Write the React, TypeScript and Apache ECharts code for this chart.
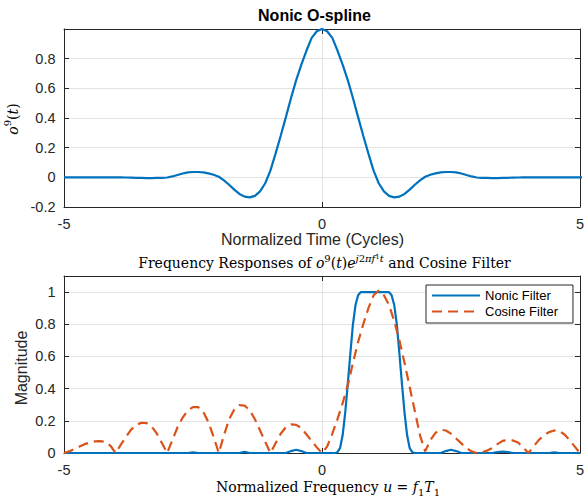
import { useEffect, useRef } from "react";
import * as echarts from "echarts";

// ---- Top plot: nonic O-spline o^9(t), sampled at t = -5 .. 5 (step 0.1)
const T_START = -5;
const T_STEP = 0.1;
const OSPLINE_VALUES = [
  0, 0, 0, 0, 0, 0, 0, 0, 0, 0, 0,
  0, -0.001, -0.002, -0.003, -0.004, -0.005, -0.005, -0.004, -0.003, -0.001,
  0.006, 0.016, 0.026, 0.033, 0.036, 0.036, 0.033, 0.027, 0.017, 0.004,
  -0.02, -0.05, -0.083, -0.112, -0.13, -0.135, -0.125, -0.095, -0.04, 0.045,
  0.16, 0.28, 0.406, 0.535, 0.655, 0.76, 0.855, 0.94, 0.985, 1.0,
  0.985, 0.94, 0.855, 0.76, 0.655, 0.535, 0.406, 0.28, 0.16, 0.045,
  -0.04, -0.095, -0.125, -0.135, -0.13, -0.112, -0.083, -0.05, -0.02, 0.004,
  0.017, 0.027, 0.033, 0.036, 0.036, 0.033, 0.026, 0.016, 0.006, -0.001,
  -0.003, -0.004, -0.005, -0.005, -0.004, -0.003, -0.002, -0.001, 0,
  0, 0, 0, 0, 0, 0, 0, 0, 0, 0, 0, 0,
];

// ---- Bottom plot: frequency responses, u = -5 .. 5
const U_START = -5;
const U_STEP = 0.1;
const COSINE_VALUES = [
  0.0, 0.01, 0.025, 0.04, 0.055, 0.065, 0.072, 0.074, 0.07, 0.045,
  0.0, 0.05, 0.1, 0.145, 0.175, 0.188, 0.186, 0.165, 0.12, 0.06,
  0.0, 0.08, 0.16, 0.22, 0.265, 0.285, 0.285, 0.255, 0.19, 0.1,
  0.0, 0.11, 0.21, 0.27, 0.297, 0.295, 0.265, 0.21, 0.14, 0.07,
  0.0, 0.06, 0.12, 0.16, 0.178, 0.175, 0.155, 0.115, 0.075, 0.035,
  0.0, 0.04, 0.12, 0.21, 0.31, 0.42, 0.56, 0.69, 0.8, 0.9,
  0.98, 1.01, 0.98, 0.92, 0.82, 0.7, 0.56, 0.41, 0.26, 0.11,
  0.01, 0.08, 0.125, 0.145, 0.14, 0.12, 0.09, 0.06, 0.03, 0.01,
  0.0, 0.005, 0.015, 0.03, 0.055, 0.075, 0.08, 0.078, 0.065, 0.035,
  0.0, 0.04, 0.08, 0.11, 0.13, 0.14, 0.138, 0.115, 0.08, 0.04,
  0.0,
];

const NONIC_U = [
  -5, -2.6, -2.5, -2.4, -1.6, -1.5, -1.4, -0.7, -0.6, -0.5, -0.4, -0.3,
  0.25, 0.3, 0.35, 0.4, 0.45, 0.5, 0.55, 0.6, 0.65, 0.7, 0.75,
  1.3, 1.35, 1.4, 1.45, 1.5, 1.55, 1.6, 1.65, 1.7, 1.75, 1.8,
  2.3, 2.4, 2.5, 2.6, 2.7, 3.3, 3.4, 3.5, 3.6, 3.7, 4.4, 4.5, 4.6, 5,
];
const NONIC_VALUES = [
  0, 0, 0.004, 0, 0, 0.007, 0, 0, 0.012, 0.02, 0.012, 0,
  0, 0.005, 0.03, 0.11, 0.25, 0.43, 0.62, 0.8, 0.92, 0.98, 1.0,
  1.0, 0.98, 0.92, 0.8, 0.62, 0.43, 0.25, 0.11, 0.03, 0.005, 0,
  0, 0.012, 0.02, 0.012, 0, 0, 0.006, 0.008, 0.006, 0, 0, 0.004, 0, 0,
];

const X_MIN = -5;
const X_MAX = 5;
const X_INTERVAL = 5;
const TOP_Y = { min: -0.2, max: 1, interval: 0.2 };
const BOT_Y = { min: 0, max: 1.1, interval: 0.2 };

const TITLE_TOP = "Nonic O-spline";
const XLABEL_TOP = "Normalized Time (Cycles)";
const YLABEL_BOT = "Magnitude";
const LEGEND_NAMES = ["Nonic Filter", "Cosine Filter"];

const BLUE = "#0072BD";
const ORANGE = "#D95319";
const INK = "#262626";
const GRID = "#e3e3e3";
const SANS = '"Liberation Sans", Arial, Helvetica, sans-serif';
const SERIF = '"DejaVu Serif", "Liberation Serif", serif';
const TICK_FS = 14.5;

function fmt(v: number) {
  const r = Math.round(v * 10) / 10;
  return String(r);
}

function makeX(gridIndex: number, position: "bottom" | "top") {
  const main = position === "bottom";
  return {
    type: "value",
    gridIndex,
    position,
    min: X_MIN,
    max: X_MAX,
    interval: X_INTERVAL,
    axisLine: { show: true, onZero: false, lineStyle: { color: INK, width: 1 } },
    axisTick: { show: true, inside: true, length: 5, lineStyle: { color: INK } },
    axisLabel: {
      show: main,
      margin: 9,
      color: INK,
      fontSize: TICK_FS,
      fontFamily: SANS,
      formatter: (v: number) => fmt(v),
    },
    splitLine: { show: main, lineStyle: { color: GRID, width: 1 } },
  };
}

function makeY(gridIndex: number, position: "left" | "right", r: { min: number; max: number; interval: number }, hideAbove: number) {
  const main = position === "left";
  return {
    type: "value",
    gridIndex,
    position,
    min: r.min,
    max: r.max,
    interval: r.interval,
    axisLine: { show: true, onZero: false, lineStyle: { color: INK, width: 1 } },
    axisTick: { show: true, inside: true, length: 5, lineStyle: { color: INK } },
    axisLabel: {
      show: main,
      margin: 8.5,
      color: INK,
      fontSize: TICK_FS,
      fontFamily: SANS,
      formatter: (v: number) => (v > hideAbove ? "" : fmt(v)),
    },
    splitLine: { show: main, lineStyle: { color: GRID, width: 1 } },
  };
}

export default function App() {
  const ref = useRef<HTMLDivElement>(null);

  useEffect(() => {
    if (!ref.current) return;
    const chart = echarts.init(ref.current, undefined, { renderer: "svg" });

    const osplineData = OSPLINE_VALUES.map((v, i) => [T_START + i * T_STEP, v]);
    const cosineData = COSINE_VALUES.map((v, i) => [U_START + i * U_STEP, v]);
    const nonicData = NONIC_U.map((u, i) => [u, NONIC_VALUES[i]]);

    const sup = { fontFamily: SERIF, fontSize: 10, lineHeight: 10, verticalAlign: "top", fill: "#000" };
    const supI = { ...sup, fontStyle: "italic" };
    const norm = { fontFamily: SERIF, fontSize: 14, lineHeight: 20, fill: "#000" };
    const ital = { ...norm, fontStyle: "italic" };

    chart.setOption({
      animation: false,
      backgroundColor: "#fff",
      grid: [
        { left: 64, top: 29, width: 520, height: 178 },
        { left: 64, top: 276, width: 520, height: 177 },
      ],
      xAxis: [makeX(0, "bottom"), makeX(0, "top"), makeX(1, "bottom"), makeX(1, "top")],
      yAxis: [
        makeY(0, "left", TOP_Y, 0.95),
        makeY(0, "right", TOP_Y, 0.95),
        makeY(1, "left", BOT_Y, 1.05),
        makeY(1, "right", BOT_Y, 1.05),
      ],
      legend: {
        data: LEGEND_NAMES,
        orient: "vertical",
        left: 426,
        top: 285,
        itemWidth: 48,
        itemHeight: 14,
        itemGap: 3,
        padding: [4, 15, 5, 5],
        borderColor: INK,
        borderWidth: 1,
        backgroundColor: "#fff",
        itemStyle: { opacity: 0 },
        textStyle: { color: "#000", fontSize: 13, fontFamily: SANS },
      },
      series: [
        {
          type: "line",
          xAxisIndex: 0,
          yAxisIndex: 0,
          data: osplineData,
          symbol: "none",
          lineStyle: { color: BLUE, width: 2.2 },
          itemStyle: { color: BLUE },
        },
        {
          name: LEGEND_NAMES[0],
          type: "line",
          xAxisIndex: 2,
          yAxisIndex: 2,
          data: nonicData,
          symbol: "none",
          lineStyle: { color: BLUE, width: 2.2 },
          itemStyle: { color: BLUE },
        },
        {
          name: LEGEND_NAMES[1],
          type: "line",
          xAxisIndex: 2,
          yAxisIndex: 2,
          data: cosineData,
          symbol: "none",
          lineStyle: { color: ORANGE, width: 2.2, type: [10, 6] },
          itemStyle: { color: ORANGE },
        },
      ],
      graphic: [
        {
          type: "text",
          x: 314.5,
          y: 15.5,
          style: { text: TITLE_TOP, font: `bold 16px ${SANS}`, fill: "#000", align: "center", verticalAlign: "middle" },
        },
        {
          type: "text",
          x: 312.5,
          y: 239.5,
          style: { text: XLABEL_TOP, font: `16px ${SANS}`, fill: INK, align: "center", verticalAlign: "middle" },
        },
        {
          type: "text",
          x: 21.5,
          y: 368,
          rotation: Math.PI / 2,
          style: { text: YLABEL_BOT, font: `16px ${SANS}`, fill: INK, align: "center", verticalAlign: "middle" },
        },
        {
          type: "text",
          x: 12.5,
          y: 119,
          rotation: Math.PI / 2,
          style: {
            text: "{i|o}{s|9}{n|(}{i|t}{n|)}",
            align: "center",
            verticalAlign: "middle",
            rich: { i: ital, n: norm, s: sup },
          },
        },
        {
          type: "text",
          x: 324.5,
          y: 263,
          style: {
            text: "{n|Frequency Responses of }{i|o}{s|9}{n|(}{i|t}{n|)}{i|e}{si|j}{s|2}{si|πf}{ss|1}{si|t}{n| and Cosine Filter}",
            align: "center",
            verticalAlign: "middle",
            rich: {
              n: norm,
              i: ital,
              s: sup,
              si: supI,
              ss: { fontFamily: SERIF, fontSize: 7, lineHeight: 14, verticalAlign: "top", fill: "#000" },
            },
          },
        },
        {
          type: "text",
          x: 328,
          y: 487,
          style: {
            text: "{n|Normalized Frequency }{i|u}{n| = }{i|f}{b|1}{i|T}{b|1}",
            align: "center",
            verticalAlign: "middle",
            rich: {
              n: norm,
              i: ital,
              b: { fontFamily: SERIF, fontSize: 10, lineHeight: 14, verticalAlign: "bottom", fill: "#000" },
            },
          },
        },
      ],
    });

    return () => chart.dispose();
  }, []);

  return (
    <div
      ref={ref}
      style={{ position: "absolute", left: 0, top: 0, width: 587, height: 498, background: "#fff" }}
    />
  );
}
